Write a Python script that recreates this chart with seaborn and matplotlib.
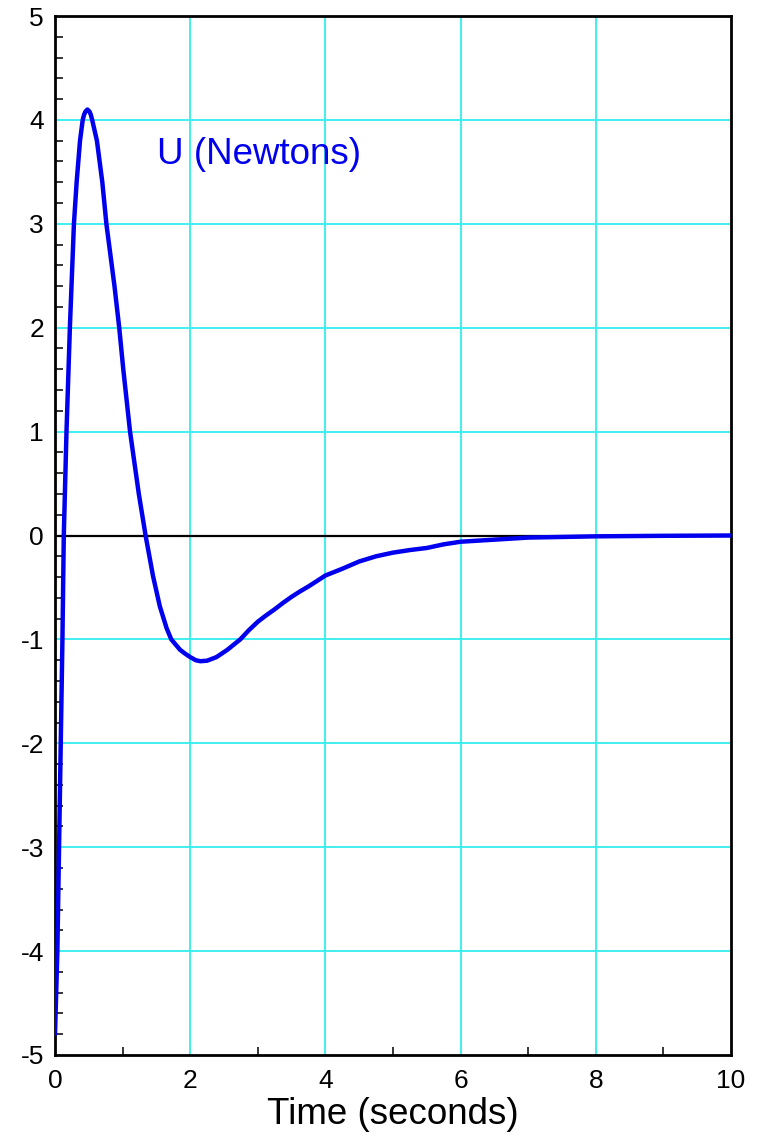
import numpy as np
import pandas as pd
import matplotlib
matplotlib.use("Agg")
import matplotlib.pyplot as plt
from matplotlib.ticker import MultipleLocator
import seaborn as sns

# control force
time_s = [0.00, 0.035, 0.06, 0.085, 0.11, 0.13, 0.17, 0.22, 0.28, 0.32,
          0.37, 0.41, 0.43, 0.45, 0.48, 0.51, 0.53, 0.55, 0.62, 0.70,
          0.76, 0.88, 0.95, 1.01, 1.11, 1.24, 1.34, 1.45, 1.55, 1.65,
          1.72, 1.85, 1.93, 2.00, 2.08, 2.15, 2.25, 2.39, 2.55, 2.74,
          2.87, 3.00, 3.12, 3.25, 3.37, 3.50, 3.62, 3.75, 3.87, 4.00,
          4.25, 4.50, 4.75, 5.00, 5.25, 5.50, 5.75, 6.00, 6.50, 7.00,
          8.00, 9.00, 10.00]
force_n = [-4.80, -4.00, -3.00, -2.00, -1.00, 0.00, 1.00, 2.00, 3.00, 3.40,
           3.80, 4.00, 4.05, 4.08, 4.10, 4.08, 4.05, 4.00, 3.80, 3.40,
           3.00, 2.40, 2.00, 1.60, 1.00, 0.40, 0.00, -0.39, -0.68, -0.89,
           -1.00, -1.10, -1.14, -1.17, -1.20, -1.21, -1.205, -1.17, -1.10, -1.00,
           -0.91, -0.83, -0.77, -0.71, -0.65, -0.59, -0.54, -0.49, -0.44, -0.385,
           -0.32, -0.25, -0.20, -0.165, -0.14, -0.12, -0.085, -0.06, -0.04, -0.02,
           -0.008, -0.003, 0.00]

x_ticks = [0, 2, 4, 6, 8, 10]
y_ticks = [-5, -4, -3, -2, -1, 0, 1, 2, 3, 4, 5]
label_text = "U (Newtons)"

df = pd.DataFrame({"t": time_s, "u": force_n})

sns.set_style("white")
plt.rcParams["font.family"] = ["Liberation Sans", "DejaVu Sans"]
plt.rcParams["axes.unicode_minus"] = False

fig = plt.figure(figsize=(7.59, 11.36), dpi=100)
ax = fig.add_axes([55 / 759, 81 / 1136, 676 / 759, 1039 / 1136])

for xv in x_ticks[1:-1]:
    ax.axvline(xv, color="#33eeee", lw=1.3, zorder=1)
for yv in y_ticks[1:-1]:
    if yv != 0:
        ax.axhline(yv, color="#33eeee", lw=1.3, zorder=1)
ax.axhline(0, color="black", lw=1.6, zorder=2)

sns.lineplot(data=df, x="t", y="u", ax=ax, color="#0000ee", lw=3.2,
             zorder=3, sort=False)

ax.text(1.51, 3.58, label_text, color="#0000ee", fontsize=26.5,
        ha="left", va="baseline")

ax.set_xlim(0, 10)
ax.set_ylim(-5, 5)
ax.set_xticks(x_ticks)
ax.set_yticks(y_ticks)
ax.xaxis.set_minor_locator(MultipleLocator(1))
ax.yaxis.set_minor_locator(MultipleLocator(0.2))
ax.tick_params(which="major", length=0, labelsize=19, colors="black")
ax.tick_params(axis="x", which="major", pad=10)
ax.tick_params(axis="y", which="major", pad=8)
ax.tick_params(which="minor", direction="in", length=6, width=1.1,
               color="black", left=True, bottom=True, right=False, top=False)
ax.set_xlabel("Time (seconds)", fontsize=26.5, labelpad=3, color="black")
ax.set_ylabel("")

for sp in ax.spines.values():
    sp.set_color("black")
    sp.set_linewidth(2.0)

fig.savefig("out.png", dpi=100)
